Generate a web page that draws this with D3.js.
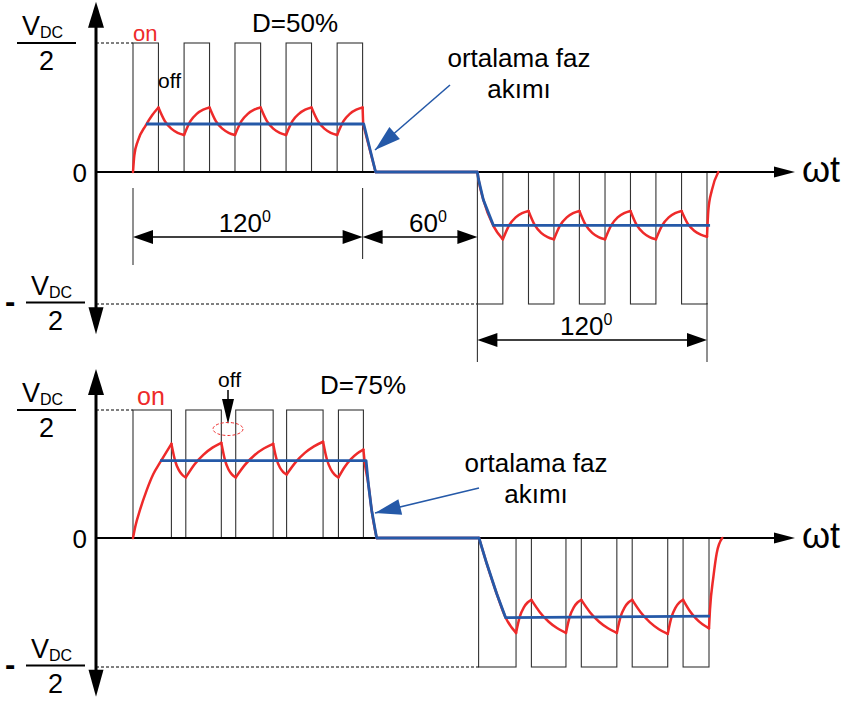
<!DOCTYPE html>
<html>
<head>
<meta charset="utf-8">
<script src="https://cdn.jsdelivr.net/npm/d3@7"></script>
<style>
body{margin:0;background:#fff;}
text{font-family:"Liberation Sans",Arial,Helvetica,sans-serif;}
</style>
</head>
<body>
<script>
(function(){

// x values are electrical degrees (wt), y values in units of Vdc/2

// switching pulses [start, end], D=50%
var pulsesPos50 = [[0,13.3],[26.7,40],[53.3,66.7],[80,93.3],[106.7,120]];
var pulsesNeg50 = [[180,193.3],[206.7,220],[233.3,246.7],[260,273.3],[286.7,300]];
// switching pulses, D=75%
var pulsesPos75 = [[0,20],[27.5,46],[53.5,73],[80,99],[107,120]];
var pulsesNeg75 = [[180,199.5],[207.5,225.5],[233.5,252],[260,278.5],[286.5,300]];

// phase current (red), one array per on/off segment
var current50 = [
    [[0,0],[0.7,0.13],[2.5,0.24],[6.6,0.36],[10,0.44],[13.3,0.5]],
    [[13.3,0.5],[16.65,0.394],[20,0.336],[23.35,0.304],[26.7,0.287]],
    [[26.7,0.287],[30,0.394],[33.3,0.451],[36.7,0.483],[40,0.5]],
    [[40,0.5],[43.3,0.394],[46.7,0.336],[50,0.304],[53.3,0.287]],
    [[53.3,0.287],[56.65,0.394],[60,0.451],[63.35,0.483],[66.7,0.5]],
    [[66.7,0.5],[70,0.394],[73.3,0.336],[76.7,0.304],[80,0.287]],
    [[80,0.287],[83.3,0.394],[86.7,0.451],[90,0.483],[93.3,0.5]],
    [[93.3,0.5],[96.65,0.394],[100,0.336],[103.35,0.304],[106.7,0.287]],
    [[106.7,0.287],[110,0.394],[113.3,0.451],[116.7,0.483],[120,0.5]],
    [[120,0.5],[120.3,0.37]],
    [[120.3,0.37],[126.8,0]],
    [[126.8,0],[180,0]],
    [[180,0],[180.5,-0.05],[183.1,-0.21],[188.4,-0.41],[193.3,-0.51]],
    [[193.3,-0.51],[196.65,-0.403],[200,-0.344],[203.35,-0.312],[206.7,-0.295]],
    [[206.7,-0.295],[210,-0.403],[213.3,-0.461],[216.7,-0.493],[220,-0.51]],
    [[220,-0.51],[223.3,-0.403],[226.7,-0.344],[230,-0.312],[233.3,-0.295]],
    [[233.3,-0.295],[236.65,-0.403],[240,-0.461],[243.35,-0.493],[246.7,-0.51]],
    [[246.7,-0.51],[250,-0.403],[253.3,-0.344],[256.7,-0.312],[260,-0.295]],
    [[260,-0.295],[263.3,-0.403],[266.7,-0.461],[270,-0.493],[273.3,-0.51]],
    [[273.3,-0.51],[276.65,-0.403],[280,-0.344],[283.35,-0.312],[286.7,-0.295]],
    [[286.7,-0.295],[290,-0.393],[293.3,-0.445],[296.7,-0.474],[300,-0.49]],
    [[300,-0.49],[300.7,-0.29],[302.5,-0.14],[305.9,0]]
];
var current75 = [
    [[0,0],[1.2,0.09],[3.6,0.217],[7.1,0.372],[10.6,0.5],[14.1,0.59],[20,0.736]],
    [[20,0.736],[21.9,0.605],[23.75,0.534],[25.6,0.494],[27.5,0.473]],
    [[27.5,0.473],[32.1,0.576],[36.75,0.652],[41.4,0.706],[46,0.744]],
    [[46,0.744],[47.9,0.609],[49.75,0.535],[51.6,0.495],[53.5,0.473]],
    [[53.5,0.473],[58.4,0.573],[63.25,0.647],[68.1,0.699],[73,0.736]],
    [[73,0.736],[74.75,0.616],[76.5,0.551],[78.25,0.515],[80,0.496]],
    [[80,0.496],[84.75,0.593],[89.5,0.665],[94.25,0.716],[99,0.752]],
    [[99,0.752],[101,0.613],[103,0.537],[105,0.495],[107,0.473]],
    [[107,0.473],[110.25,0.555],[113.5,0.616],[116.75,0.66],[120,0.69]],
    [[120,0.69],[120.6,0.6],[122.6,0.42],[124.3,0.217],[126.9,0]],
    [[126.9,0],[180.2,0]],
    [[180.2,0],[184.2,-0.196],[189.4,-0.43],[194.1,-0.618],[199.5,-0.736]],
    [[199.5,-0.736],[201.5,-0.608],[203.5,-0.539],[205.5,-0.5],[207.5,-0.48]],
    [[207.5,-0.48],[212,-0.577],[216.5,-0.649],[221,-0.7],[225.5,-0.736]],
    [[225.5,-0.736],[227.5,-0.608],[229.5,-0.539],[231.5,-0.5],[233.5,-0.48]],
    [[233.5,-0.48],[238.1,-0.577],[242.75,-0.649],[247.4,-0.7],[252,-0.736]],
    [[252,-0.736],[254,-0.608],[256,-0.539],[258,-0.5],[260,-0.48]],
    [[260,-0.48],[264.6,-0.58],[269.25,-0.654],[273.9,-0.707],[278.5,-0.744]],
    [[278.5,-0.744],[280.5,-0.612],[282.5,-0.541],[284.5,-0.501],[286.5,-0.48]],
    [[286.5,-0.48],[289.9,-0.564],[293.25,-0.625],[296.6,-0.669],[300,-0.7]],
    [[300,-0.7],[300.5,-0.558],[302.3,-0.3],[304,-0.119],[306.9,0]]
];

// average phase current (blue)
var avg50 = [[6.8,0.372],[120.6,0.372],[126.8,0],[180,0],[180.5,-0.05],[183.1,-0.21],[188.4,-0.405],[301.6,-0.405]];
var avg75 = [[14.1,0.605],[121.4,0.605],[122.6,0.42],[124.3,0.217],[126.9,0],[180.2,0],[184.2,-0.196],[189.4,-0.43],[194.1,-0.618],[300.5,-0.605]];

// dimension spans and labels (top panel)
var dimSpans = [[0,120],[120,180],[180,300]];
var dimLabels = ["120","60","120"];

var red = "#ee2a2a",
    blue = "#2559a8";

var svg = d3.select("body")
    .append("svg")
    .attr("width", 847)
    .attr("height", 701);

//filled arrow head, tip at (tx,ty), pointing from (fx,fy)
function arrowHead(g, fx, fy, tx, ty, len, half, color){
    var dx = tx - fx, dy = ty - fy, d = Math.sqrt(dx*dx + dy*dy);
    var ux = dx / d, uy = dy / d;
    var bx = tx - ux * len, by = ty - uy * len;
    var p = d3.path();
    p.moveTo(tx, ty);
    p.lineTo(bx - uy * half, by + ux * half);
    p.lineTo(bx + uy * half, by - ux * half);
    p.closePath();
    g.append("path").attr("d", p.toString()).attr("fill", color);
}

function fraction(g, x1, x2, yBar, label){
    g.append("line")
        .attr("x1", x1).attr("x2", x2)
        .attr("y1", yBar).attr("y2", yBar)
        .attr("stroke", "#000").attr("stroke-width", 2);
    var t = g.append("text")
        .attr("x", x1 + 5)
        .attr("y", yBar - 8)
        .attr("font-size", 27);
    t.append("tspan").text("V");
    t.append("tspan").attr("font-size", 16).attr("dy", 3).text("DC");
    g.append("text")
        .attr("x", (x1 + x2) / 2)
        .attr("y", yBar + 27)
        .attr("text-anchor", "middle")
        .attr("font-size", 27)
        .text(label);
}

function drawPanel(cfg){
    var g = svg.append("g");
    var x = cfg.x, y = cfg.y;
    var axisX = 96;

    // switching pulses
    g.selectAll(".pulsePos")
        .data(cfg.pulsesPos)
        .enter()
        .append("rect")
        .attr("x", function(d){ return x(d[0]); })
        .attr("width", function(d){ return x(d[1]) - x(d[0]); })
        .attr("y", y(1))
        .attr("height", y(0) - y(1))
        .attr("fill", "none")
        .attr("stroke", "#333")
        .attr("stroke-width", 1.1);
    g.selectAll(".pulseNeg")
        .data(cfg.pulsesNeg)
        .enter()
        .append("rect")
        .attr("x", function(d){ return x(d[0]); })
        .attr("width", function(d){ return x(d[1]) - x(d[0]); })
        .attr("y", y(0))
        .attr("height", y(-1) - y(0))
        .attr("fill", "none")
        .attr("stroke", "#333")
        .attr("stroke-width", 1.1);

    // dashed Vdc/2 guides
    g.append("line")
        .attr("x1", axisX).attr("x2", x(cfg.pulsesPos[0][0]))
        .attr("y1", y(1)).attr("y2", y(1))
        .attr("stroke", "#000").attr("stroke-width", 1)
        .attr("stroke-dasharray", "3,2");
    g.append("line")
        .attr("x1", axisX).attr("x2", x(cfg.pulsesNeg[0][0]))
        .attr("y1", y(-1)).attr("y2", y(-1))
        .attr("stroke", "#000").attr("stroke-width", 1)
        .attr("stroke-dasharray", "3,2");

    // wt axis
    g.append("line")
        .attr("x1", axisX).attr("x2", 776)
        .attr("y1", y(0)).attr("y2", y(0))
        .attr("stroke", "#000").attr("stroke-width", 1.8);
    arrowHead(g, 700, y(0), 795, y(0), 21, 5.5, "#000");
    g.append("text")
        .attr("x", 802)
        .attr("y", y(0) + 10)
        .attr("font-size", 36)
        .text("ωt");

    // vertical axis
    var yTop = y(0) - (y(0) - y(1)) * 1.32,
        yBot = y(0) + (y(-1) - y(0)) * 1.23;
    g.append("line")
        .attr("x1", axisX).attr("x2", axisX)
        .attr("y1", yTop + 15).attr("y2", yBot - 15)
        .attr("stroke", "#000").attr("stroke-width", 3);
    arrowHead(g, axisX, 200 + y(0), axisX, yTop, 26, 8, "#000");
    arrowHead(g, axisX, y(0) - 200, axisX, yBot, 27, 7.5, "#000");

    // left labels
    fraction(g, 17, 76, y(1), "2");
    g.append("text")
        .attr("x", 87)
        .attr("y", y(0) + 10)
        .attr("text-anchor", "end")
        .attr("font-size", 26)
        .text("0");
    fraction(g, 26, 85, y(-1) - 1.5, "2");
    g.append("text")
        .attr("x", 5)
        .attr("y", y(-1) + 8)
        .attr("font-size", 31)
        .attr("font-weight", "bold")
        .text("-");

    // phase current
    var curve = d3.line()
        .x(function(d){ return x(d[0]); })
        .y(function(d){ return y(d[1]); })
        .curve(d3.curveMonotoneX);
    g.selectAll(".current")
        .data(cfg.current)
        .enter()
        .append("path")
        .attr("d", curve)
        .attr("fill", "none")
        .attr("stroke", red)
        .attr("stroke-width", 2.5)
        .attr("stroke-linejoin", "round")
        .attr("stroke-linecap", "round");

    // average current
    var avgLine = d3.line()
        .x(function(d){ return x(d[0]); })
        .y(function(d){ return y(d[1]); });
    g.append("path")
        .datum(cfg.avg)
        .attr("d", avgLine)
        .attr("fill", "none")
        .attr("stroke", blue)
        .attr("stroke-width", 2.8)
        .attr("stroke-linejoin", "round");

    // annotation: ortalama faz akimi
    var a = cfg.note;
    g.append("line")
        .attr("x1", a.from[0]).attr("y1", a.from[1])
        .attr("x2", a.to[0]).attr("y2", a.to[1])
        .attr("stroke", blue).attr("stroke-width", 1.6);
    arrowHead(g, a.from[0], a.from[1], a.to[0], a.to[1], 26, 8, blue);
    g.append("text")
        .attr("x", a.textX).attr("y", a.textY)
        .attr("text-anchor", "middle")
        .attr("font-size", 26)
        .text("ortalama faz");
    g.append("text")
        .attr("x", a.textX).attr("y", a.textY + 31)
        .attr("text-anchor", "middle")
        .attr("font-size", 26)
        .text("akımı");

    g.append("text")
        .attr("x", cfg.onPos[0]).attr("y", cfg.onPos[1])
        .attr("font-size", cfg.onSize)
        .attr("fill", red)
        .text("on");
    g.append("text")
        .attr("x", cfg.offPos[0]).attr("y", cfg.offPos[1])
        .attr("font-size", 21)
        .text("off");
    g.append("text")
        .attr("x", cfg.dutyPos[0]).attr("y", cfg.dutyPos[1])
        .attr("font-size", 26)
        .text(cfg.duty);

    return g;
}

var top = drawPanel({
    pulsesPos: pulsesPos50, pulsesNeg: pulsesNeg50,
    current: current50, avg: avg50,
    x: d3.scaleLinear().domain([0, 300]).range([133, 707]),
    y: d3.scaleLinear().domain([-1, 0, 1]).range([304, 172, 43]),
    note: {from: [450, 85], to: [375, 150], textX: 519, textY: 67},
    onPos: [133, 41], onSize: 22,
    offPos: [158, 88],
    dutyPos: [252, 32], duty: "D=50%"
});

var bottom = drawPanel({
    pulsesPos: pulsesPos75, pulsesNeg: pulsesNeg75,
    current: current75, avg: avg75,
    x: d3.scaleLinear().domain([0, 300]).range([133, 709]),
    y: d3.scaleLinear().domain([-1, 0, 1]).range([667, 538, 410]),
    note: {from: [479, 488], to: [375, 513], textX: 536, textY: 472},
    onPos: [137, 405], onSize: 25,
    offPos: [218, 387],
    dutyPos: [320, 394], duty: "D=75%"
});

// off marker on the D=75% panel
bottom.append("line")
    .attr("x1", 228).attr("x2", 228)
    .attr("y1", 390).attr("y2", 402)
    .attr("stroke", "#000").attr("stroke-width", 1.5);
arrowHead(bottom, 228, 390, 228, 424, 25, 6, "#000");
bottom.append("ellipse")
    .attr("cx", 228).attr("cy", 429)
    .attr("rx", 15).attr("ry", 6.5)
    .attr("fill", "none")
    .attr("stroke", red).attr("stroke-width", 1)
    .attr("stroke-dasharray", "3,2");

// dimension lines on the D=50% panel
var xTop = d3.scaleLinear().domain([0, 300]).range([133, 707]);
var dimY = [237, 237, 340],
    dimShift = [-3, 8, -6];
var ext = [[0, 188, 265], [120, 188, 259], [180, 303, 362], [300, 303, 362]];
ext.forEach(function(e){
    top.append("line")
        .attr("x1", xTop(e[0])).attr("x2", xTop(e[0]))
        .attr("y1", e[1]).attr("y2", e[2])
        .attr("stroke", "#333").attr("stroke-width", 1.1);
});
dimSpans.forEach(function(s, i){
    var x1 = xTop(s[0]), x2 = xTop(s[1]), yy = dimY[i];
    top.append("line")
        .attr("x1", x1 + 10).attr("x2", x2 - 10)
        .attr("y1", yy).attr("y2", yy)
        .attr("stroke", "#000").attr("stroke-width", 1.6);
    arrowHead(top, x2, yy, x1, yy, 20, 7, "#000");
    arrowHead(top, x1, yy, x2, yy, 20, 7, "#000");
    var t = top.append("text")
        .attr("x", (x1 + x2) / 2 + dimShift[i])
        .attr("y", yy - 5)
        .attr("text-anchor", "middle")
        .attr("font-size", 26);
    t.append("tspan").text(dimLabels[i]);
    t.append("tspan").attr("font-size", 16).attr("dy", -10).text("0");
});

})();
</script>
</body>
</html>
